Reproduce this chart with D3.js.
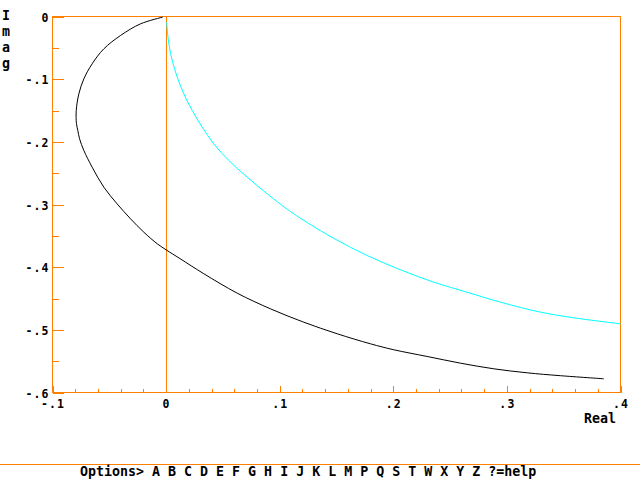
<!DOCTYPE html>
<html>
<head>
<meta charset="utf-8">
<script src="https://cdn.jsdelivr.net/npm/d3@7"></script>
<style>
  body { margin: 0; background: #fff; }
  svg { display: block; }
  text { font-family: "DejaVu Sans Mono", "Liberation Mono", monospace; font-weight: bold; fill: #000; }
</style>
</head>
<body>
<script>
// values: [real, imag]
let blackCurve = [
  [-0.003,-0.001],[-0.0225,-0.0117],[-0.0401,-0.0303],[-0.0548,-0.0516],[-0.0651,-0.0755],
  [-0.0724,-0.0995],[-0.0768,-0.1234],[-0.0791,-0.150],[-0.0789,-0.171],[-0.0777,-0.182],
  [-0.0762,-0.195],[-0.0724,-0.2138],[-0.0651,-0.2404],[-0.0548,-0.2724],[-0.0431,-0.2990],
  [-0.0313,-0.3228],[-0.0196,-0.3442],[-0.0078,-0.3627],[0.0,-0.3723],[0.0121,-0.3862],
  [0.0332,-0.4105],[0.0626,-0.4415],[0.0919,-0.4665],[0.1212,-0.4878],[0.1506,-0.5063],
  [0.1799,-0.5223],[0.2004,-0.5318],[0.2298,-0.5425],[0.2592,-0.5532],[0.2885,-0.5622],
  [0.3179,-0.5686],[0.3472,-0.5732],[0.3853,-0.5781]
];
let cyanCurve = [
  [0.0005,-0.009],[0.0024,-0.0436],[0.0054,-0.0702],[0.0098,-0.0968],[0.0156,-0.1234],
  [0.023,-0.150],[0.0318,-0.1766],[0.042,-0.2032],[0.0552,-0.2298],[0.0714,-0.2564],
  [0.089,-0.283],[0.1066,-0.3075],[0.1183,-0.3220],[0.1476,-0.3540],[0.177,-0.3814],
  [0.2063,-0.4042],[0.2357,-0.424],[0.265,-0.440],[0.2944,-0.4559],[0.3296,-0.4718],
  [0.3589,-0.4808],[0.3883,-0.4878],[0.4,-0.4904]
];

let xTicks = [-0.1, 0, 0.1, 0.2, 0.3, 0.4];
let xTickLabels = ["-.1", "0", ".1", ".2", ".3", ".4"];
let xMinor = [-0.08,-0.06,-0.04,-0.02,0.02,0.04,0.06,0.08,0.12,0.14,0.16,0.18,0.22,0.24,0.26,0.28,0.32,0.34,0.36,0.38];
let yTicks = [0, -0.1, -0.2, -0.3, -0.4, -0.5, -0.6];
let yTickLabels = ["0", "-.1", "-.2", "-.3", "-.4", "-.5", "-.6"];
let yMinor = [-0.05, -0.15, -0.25, -0.35, -0.45, -0.55];

let orange = "#ff8000";
let W = 640, H = 480;

let svg = d3.select("body").append("svg").attr("width", W).attr("height", H);
let g = svg.append("g").attr("transform", "translate(0.5,0.5)");

let x = d3.scaleLinear().domain([-0.1, 0.4]).range([52, 620]);
let y = d3.scaleLinear().domain([-0.6, 0]).range([392, 16]);

// frame
g.append("rect")
  .attr("x", x(-0.1)).attr("y", y(0))
  .attr("width", x(0.4) - x(-0.1)).attr("height", y(-0.6) - y(0))
  .attr("fill", "none").attr("stroke", orange).attr("shape-rendering", "crispEdges");

// y axis, ticks point inward
let yAxis = d3.axisLeft(y).tickValues(yTicks).tickSize(-11).tickPadding(3)
  .tickFormat((d, i) => yTickLabels[i]);
let yg = g.append("g").attr("transform", "translate(" + x(-0.1) + ",0)").call(yAxis);
let yMinorAxis = d3.axisLeft(y).tickValues(yMinor).tickSize(-6).tickFormat("");
let ymg = g.append("g").attr("transform", "translate(" + x(-0.1) + ",0)").call(yMinorAxis);

// x axis, ticks point upward
let xAxis = d3.axisBottom(x).tickValues(xTicks).tickSize(-7).tickPadding(7)
  .tickFormat((d, i) => xTickLabels[i]);
let xg = g.append("g").attr("transform", "translate(0," + y(-0.6) + ")").call(xAxis);
let xMinorAxis = d3.axisBottom(x).tickValues(xMinor).tickSize(-4).tickFormat("");
let xmg = g.append("g").attr("transform", "translate(0," + y(-0.6) + ")").call(xMinorAxis);

[yg, ymg, xg, xmg].forEach(a => {
  a.select(".domain").remove();
  a.selectAll("line").attr("stroke", orange).attr("shape-rendering", "crispEdges");
  a.selectAll("text").attr("font-size", 11.5).attr("letter-spacing", 1.1)
    .attr("font-family", null).attr("fill", "#000");
});
yg.selectAll("text").attr("dy", "0.4em");

// zero line
g.append("line")
  .attr("x1", x(0)).attr("x2", x(0)).attr("y1", y(0)).attr("y2", y(-0.6))
  .attr("stroke", orange).attr("shape-rendering", "crispEdges");

let line = d3.line().x(d => x(d[0])).y(d => y(d[1])).curve(d3.curveCatmullRom);

g.append("path").datum(blackCurve)
  .attr("d", line).attr("fill", "none").attr("stroke", "#000").attr("stroke-width", 1);
g.append("path").datum(cyanCurve)
  .attr("d", line).attr("fill", "none").attr("stroke", "#00ffff").attr("stroke-width", 1);

// axis titles
svg.append("text").attr("x", 584).attr("y", 423).attr("font-size", 13.3).text("Real");
"Imag".split("").forEach((c, i) => {
  svg.append("text").attr("x", 6).attr("y", 20 + i * 16)
    .attr("text-anchor", "middle").attr("font-size", 13.3).text(c);
});

// bottom menu
svg.append("line").attr("x1", 0).attr("x2", W).attr("y1", 464.5).attr("y2", 464.5)
  .attr("stroke", orange).attr("shape-rendering", "crispEdges");
svg.append("text").attr("x", 80).attr("y", 476).attr("font-size", 13.3).attr("xml:space", "preserve")
  .text("Options> A B C D E F G H I J K L M P Q S T W X Y Z ?=help");
</script>
</body>
</html>
